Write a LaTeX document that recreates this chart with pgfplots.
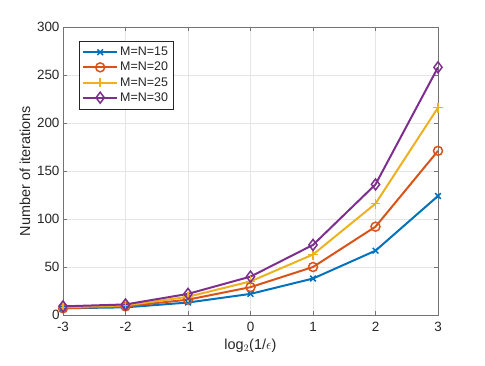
\documentclass[border=0pt]{standalone}
\usepackage{fontspec}
\setmainfont{Liberation Sans}
\usepackage{pgfplots}
\pgfplotsset{compat=1.18}
\definecolor{mblue}{HTML}{0072BD}
\definecolor{morange}{HTML}{D95319}
\definecolor{myellow}{HTML}{EDB120}
\definecolor{mpurple}{HTML}{7E2F8E}
\definecolor{axgray}{HTML}{262626}

\begin{document}
\begin{tikzpicture}
\begin{axis}[scale only axis,width=375bp,height=288bp,
xmin=-3,xmax=3,ymin=0,ymax=300,
xtick={-3,-2,-1,0,1,2,3},ytick={0,50,100,150,200,250,300},
/pgf/number format/assume math mode=true,
tick label style={font=\fontsize{13.5}{15}\selectfont,text=axgray},
xticklabel style={yshift=-4bp},
label style={font=\fontsize{14.5}{17}\selectfont,text=axgray},
xlabel={log$_2$(1/$\epsilon$)},ylabel={Number of iterations},
axis line style={black!55},tick style={black!55,line width=0.5pt},
tick align=inside,tick pos=both,major tick length=4bp,
grid=major,grid style={black!10,line width=0.5pt},
legend style={at={(0,1)},anchor=north west,xshift=16bp,yshift=-14bp,
  draw=axgray,font=\fontsize{12.5}{14}\selectfont,text=axgray,
  row sep=1bp,inner xsep=3bp,inner ysep=4bp},
legend cell align=left,
legend image code/.code={\draw[mark repeat=2,mark phase=2,line width=2pt] plot coordinates {(0bp,0bp)(17bp,0bp)(34bp,0bp)};}]
\addplot[mblue,line width=2pt,mark=x,mark size=4pt,mark options={line width=1.5pt}] coordinates {(-3,7)(-2,8)(-1,13)(0,22)(1,38)(2,67)(3,124)};
\addplot[morange,line width=2pt,mark=o,mark size=4.5pt,mark options={line width=1.5pt}] coordinates {(-3,7)(-2,9)(-1,16)(0,29)(1,50)(2,92)(3,171)};
\addplot[myellow,line width=2pt,mark=+,mark size=5pt,mark options={line width=1.5pt}] coordinates {(-3,8)(-2,10)(-1,19)(0,35)(1,63)(2,116)(3,216)};
\addplot[mpurple,line width=2pt,mark=diamond,mark size=5.5pt,mark options={line width=1.5pt}] coordinates {(-3,9)(-2,11)(-1,22)(0,40)(1,73)(2,136)(3,258)};
\legend{M=N=15,M=N=20,M=N=25,M=N=30}
\end{axis}
\path ([shift={(-63bp,-50bp)}]current axis.south west) rectangle ([shift={(47bp,27bp)}]current axis.north east);
\end{tikzpicture}
\end{document}
